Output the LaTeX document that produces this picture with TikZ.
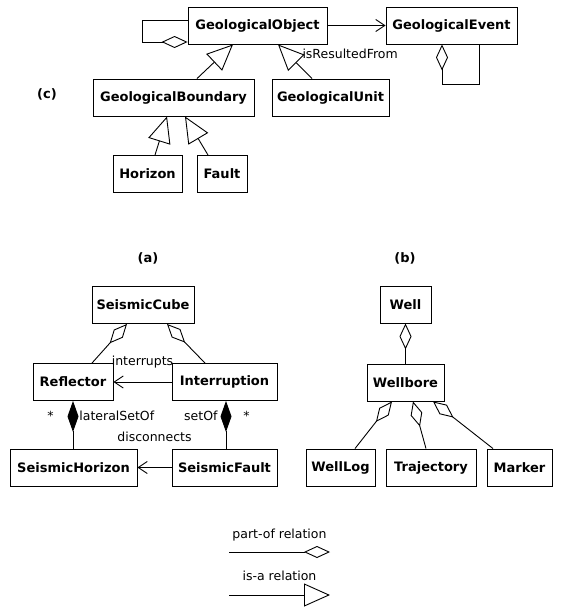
\documentclass[tikz,border=0pt]{standalone}
\usepackage{fontspec}
\setmainfont{DejaVu Sans}
\usetikzlibrary{arrows.meta, positioning}

\begin{document}
\begin{tikzpicture}[
        x=1pt, y=-1pt,
        line width=0.9pt,
        font=\fontsize{12.5}{14}\selectfont,
        box/.style={draw, rectangle, align=center, minimum height=37pt,
            inner xsep=2pt, font=\fontsize{13}{15}\selectfont\bfseries},
        tag/.style={font=\fontsize{13}{15}\selectfont\bfseries},
        lbl/.style={inner sep=1pt},
        part/.style={-{Diamond[open, length=26pt, width=12pt]}},
        whole/.style={-{Diamond[length=31pt, width=11pt]}},
        isa/.style={-{Triangle[open, length=26pt, width=23pt]}},
        nav/.style={-{Straight Barb[length=9pt, width=12pt]}},
    ]
        \useasboundingbox (0,0) rectangle (560,608);

        % (c) geological objects
        \node[box, minimum width=139pt] (object) at (257.5,25.5) {GeologicalObject};
        \node[box, minimum width=131pt] (event) at (451.5,25.5) {GeologicalEvent};
        \node[box, minimum width=161pt] (boundary) at (173.5,97.5) {GeologicalBoundary};
        \node[box, minimum width=117pt] (unit) at (330.5,97.5) {GeologicalUnit};
        \node[box, minimum width=69pt] (horizon) at (147.5,174) {Horizon};
        \node[box, minimum width=50pt] (fault) at (222,174) {Fault};
        \node[tag] (c) at (47,94) {(c)};

        \draw[nav] (object) -- (event)
            node[lbl, pos=0.39, below=22pt] {isResultedFrom};
        \draw[part] ([yshift=5.5pt]object.west) -- ++(-45,0)
            |- ([yshift=-16.5pt]object.west);
        \draw[part] ([xshift=27.5pt]event.south) -- ++(0,40)
            -| ([xshift=-9.5pt]event.south);
        \draw[isa] ([xshift=23.5pt]boundary.north) -- ([xshift=-24.5pt]object.south);
        \draw[isa] ([xshift=-18.5pt]unit.north) -- ([xshift=20.5pt]object.south);
        \draw[isa] ([xshift=7.5pt]horizon.north) -- ([xshift=-6.5pt]boundary.south);
        \draw[isa] ([xshift=-14pt]fault.north) -- ([xshift=11.5pt]boundary.south);

        % (a) seismic objects
        \node[tag] (a) at (148,258) {(a)};
        \node[box, minimum width=102pt] (cube) at (143,305) {SeismicCube};
        \node[box, minimum width=80pt] (reflector) at (73,382) {Reflector};
        \node[box, minimum width=105pt] (interruption) at (224.5,382) {Interruption};
        \node[box, minimum width=127pt] (shorizon) at (73.5,467.5) {SeismicHorizon};
        \node[box, minimum width=105pt] (sfault) at (224.5,467.5) {SeismicFault};

        \draw[part] ([xshift=19pt]reflector.north) -- ([xshift=-16pt]cube.south);
        \draw[part] ([xshift=-19.5pt]interruption.north) -- ([xshift=24pt]cube.south);
        \draw[nav] (interruption) -- (reflector)
            node[lbl, midway, above=12pt] {interrupts};
        \draw[whole] (shorizon.north -| reflector) -- (reflector.south)
            node[lbl, pos=0.68, left=18pt] {*}
            node[lbl, pos=0.68, right=5pt] {lateralSetOf};
        \draw[whole] ([xshift=1.5pt]sfault.north) -- ([xshift=1.5pt]interruption.south)
            node[lbl, pos=0.68, left=7pt] {setOf}
            node[lbl, pos=0.68, right=16pt] {*};
        \draw[nav] (sfault) -- (shorizon)
            node[lbl, midway, above=24pt] {disconnects};

        % (b) well objects
        \node[tag] (b) at (405,258) {(b)};
        \node[box, minimum width=51pt] (well) at (405.5,304.5) {Well};
        \node[box, minimum width=77pt] (wellbore) at (405.5,382.5) {Wellbore};
        \node[box, minimum width=69pt] (welllog) at (340.5,467.5) {WellLog};
        \node[box, minimum width=90pt] (trajectory) at (431,467.5) {Trajectory};
        \node[box, minimum width=65pt] (marker) at (519.5,467.5) {Marker};

        \draw[part] (wellbore) -- (well);
        \draw[part] ([xshift=14.5pt]welllog.north) -- ([xshift=-13.5pt]wellbore.south);
        \draw[part] ([xshift=-5pt]trajectory.north) -- ([xshift=7.5pt]wellbore.south);
        \draw[part] ([xshift=-26.5pt]marker.north) -- ([xshift=27.5pt]wellbore.south);

        % legend
        \coordinate (partA) at (229,552);
        \coordinate (partB) at (330,552);
        \coordinate (isaA) at (229,595);
        \coordinate (isaB) at (330,595);
        \draw[part] (partA) -- (partB)
            node[lbl, midway, above=9pt] {part-of relation};
        \draw[isa] (isaA) -- (isaB)
            node[lbl, midway, above=13pt] {is-a relation};
    \end{tikzpicture}
\end{document}
